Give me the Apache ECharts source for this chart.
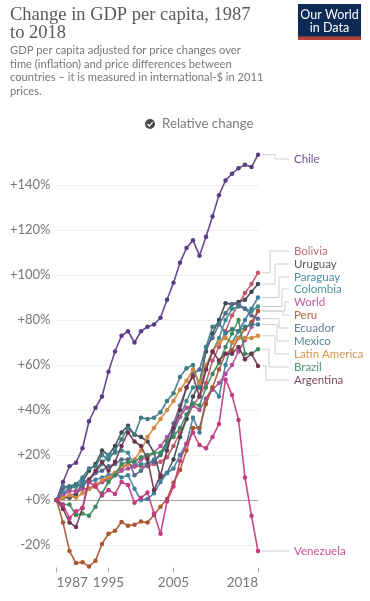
<!DOCTYPE html>
<html><head><meta charset="utf-8">
<style>html,body{margin:0;padding:0;background:#fff}#c{width:370px;height:601px}</style>
<script src="https://cdn.jsdelivr.net/npm/echarts@6/dist/echarts.min.js"></script></head>
<body><div id="c"></div>
<script>
const years = Array.from({length:32},(_,i)=>1987+i);
const xTicks = [1987,1995,2005,2018];
const yTicks = [-20,0,20,40,60,80,100,120,140];
const chile = [0,8,15,16.6,23,35,41,46,57,66,73,75,70,75,77,78,81,89,96.6,105.5,112,115.5,108.6,117,126,135.5,142,145,147.5,149,148,153.5];
const venezuela = [0,-2,-8,-5,-3.6,8,6,2,4.4,2.7,8,6.7,-1.2,1,3.3,-6,-15,-0.7,6,17.3,25,30,24.4,23,28,33.8,53.6,46.7,35.6,10,-7,-22.7];
const peru = [0,-10,-22.7,-28,-27.7,-29.5,-27,-19.5,-15,-13.7,-9.8,-11.4,-11,-9.6,-10,-6.7,-3,0.4,7.7,13.3,22,32,32,42.7,50,58,65,66.7,72,76,79,84];
const argentina = [0,-4,-10,-12,-3.6,9,13,17,13,17,24,30,26,24,18,4.4,11,22,32,40,50,55,46,58,66,62,65,65,68,62.6,65,59.6];
const bolivia = [0,1,2,3,5,5,7,8,10,12,14,16,15,15,15,16,17,19,24,30,36,42,46,52,62,68,75,82,87,92,96,101];
const uruguay = [0,1,1,2,8,13,16,22,20,24,30,33,29,28,26,21,10,12,18,28,36,46,52,66,74,80,87.5,87,88,89,92.6,96];
const paraguay = [0,2,6,6,9,8,9,10,11,12,10,11,5,0,0.5,3,8,12,14,20,25,36.6,30,45,50,46,60,70,75,80,85,90];
const colombia = [0,3,5,6,7,9,12,16,20,21,22,21,15,16,16,18,20,24,30,37,44,50,50,58,66,72,80,85,86,85,84,86];
const world = [0,2,4,4,5,5,6,8,9,11,13,14,15,18,19,21,24,28,32,37,41,42,40,45,49,52,56,60,66,71,77,84];
const ecuador = [0,5,6,7,6,9,12,13,15,16,18,18,11,13,16,17,20,26,34,42,50,56,58,68,72,78,83,87,87,85,82,80.6];
const mexico = [0,6,6,7,10,14,15,20,18,22,27,32,29,36.6,36,36.6,39,44,47.5,54.7,58.6,60,50,68,77,78.6,74,76,75,77,78,78];
const latinAmerica = [0,1,2,1,3,5,6,9,10,12,15,16,18,22,28,32,36,40,44,49,53,58,52,60,66,70,72,70,72,72,72,73];
const brazil = [0,-2,-2,-6.7,-6,-7,-3,3,8,11,16,17,17,19,20,21,21,26,28,32,38,43,42,50,56,61,68,74,80,65,65,67];

const names = ['Chile','Bolivia','Uruguay','Paraguay','Colombia','World','Peru','Ecuador','Mexico','Latin America','Brazil','Argentina','Venezuela'];
const values = [chile,bolivia,uruguay,paraguay,colombia,world,peru,ecuador,mexico,latinAmerica,brazil,argentina,venezuela];
const colors = ['#5b3a86','#c0566c','#3f474f','#3d7f9e','#3a8a90','#b04f9a','#a9552f','#56688c','#3f7a85','#d2883f','#3b8a5e','#6e3450','#c23a80'];
const labelY = [159,251,264,277,289,302,315,328,341,354,367,380,551];
const elbowX = [275,270,275,279,282,285,283,279,277,275,269,266,275];

const chart = echarts.init(document.getElementById('c'),null,{renderer:'canvas'});
const F='Lato, sans-serif';
const series = names.map((n,i)=>({
  name:n,type:'line',data:years.map((y,j)=>[y,values[i][j]]),
  symbol:'circle',symbolSize:4.5,showSymbol:true,
  lineStyle:{width:1.6,color:colors[i],opacity:.92},itemStyle:{color:colors[i]},
  animation:false,silent:true,z:3+i,clip:false
}));
series.unshift({type:'line',data:[],silent:true,animation:false,
  markLine:{silent:true,symbol:'none',animation:false,label:{show:false},
    lineStyle:{color:'#a3a3a3',type:'solid',width:1.2},data:[{yAxis:0}]},z:2});
chart.setOption({
  animation:false,
  grid:{left:56.5,right:112,top:151.25,bottom:33.5},
  xAxis:{type:'value',min:1987,max:2018,
    axisLine:{show:true,onZero:false,lineStyle:{color:'rgba(0,0,0,0)'}},splitLine:{show:false},
    axisTick:{show:true,length:5,customValues:xTicks,lineStyle:{color:'#aaa'}},
    axisLabel:{customValues:xTicks,formatter:v=>String(v),color:'#777',fontFamily:F,fontSize:13.5,margin:8,alignMinLabel:'left',alignMaxLabel:'right'}},
  yAxis:{type:'value',min:-30,max:155,
    axisLine:{show:false},
    axisTick:{show:false,customValues:yTicks},
    splitLine:{show:true,lineStyle:{color:'#dfdfdf',type:[2,2],width:1}},
    axisLabel:{customValues:yTicks,formatter:v=>(v>=0?'+':'')+v+'%',color:'#777',fontFamily:F,fontSize:13,margin:6}},
  series,
  graphic:[]
});
const g=[
 {type:'text',left:10,top:6,style:{text:'Change in GDP per capita, 1987\nto 2018',fill:'#5a5a5a',font:'18.5px "Liberation Serif", serif',lineHeight:18}},
 {type:'text',left:10,top:44,style:{text:'GDP per capita adjusted for price changes over\ntime (inflation) and price differences between\ncountries – it is measured in international-$ in 2011\nprices.',fill:'#777',font:'11.2px Lato, sans-serif',lineHeight:13.4}},
 {type:'rect',shape:{x:298,y:4,width:63,height:36},style:{fill:'#0c2a55'}},
 {type:'rect',shape:{x:298,y:36.5,width:63,height:3.5},style:{fill:'#b8413c'}},
 {type:'text',x:329.5,y:14.5,style:{text:'Our World',fill:'#fff',font:'12.5px Lato, sans-serif',align:'center',verticalAlign:'middle'}},
 {type:'text',x:329.5,y:28,style:{text:'in Data',fill:'#fff',font:'12.5px Lato, sans-serif',align:'center',verticalAlign:'middle'}},
 {type:'circle',shape:{cx:150,cy:124,r:5},style:{fill:'#4a4a4a'}},
 {type:'polyline',shape:{points:[[147.5,124],[149.5,126],[152.7,122]]},style:{stroke:'#fff',lineWidth:1.2,fill:null}},
 {type:'text',x:162,y:124,style:{text:'Relative change',fill:'#7d7d7d',font:'13.3px Lato, sans-serif',verticalAlign:'middle'}}
];
names.forEach((n,i)=>{
  const p=chart.convertToPixel({xAxisIndex:0,yAxisIndex:0},[2018,values[i][31]]);
  const pts=[[p[0]+4,p[1]],[elbowX[i],p[1]],[elbowX[i],labelY[i]],[289,labelY[i]]];
  g.push({type:'polyline',shape:{points:pts},style:{stroke:'#cfcfcf',lineWidth:1,fill:null}});
  g.push({type:'text',x:294,y:labelY[i],style:{text:n,fill:colors[i],opacity:.9,font:'11.5px Lato, sans-serif',verticalAlign:'middle'}});
});
chart.setOption({graphic:g});
</script></body></html>
